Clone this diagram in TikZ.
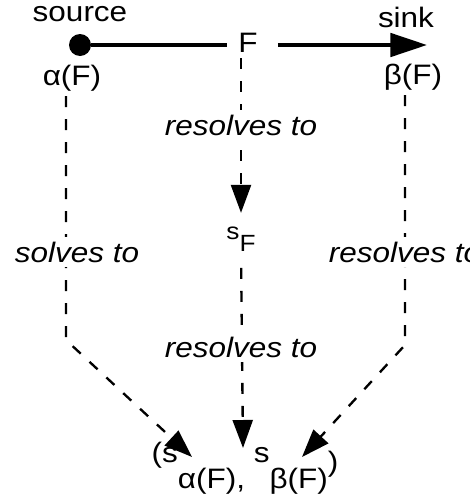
\documentclass[tikz,border=0pt]{standalone}
\usepackage{fontspec}
\setmainfont[FakeStretch=1.12]{Liberation Sans}
\usetikzlibrary{arrows.meta}

\begin{document}
\begin{tikzpicture}[
            x=0.03cm,
            y=-0.03cm,
            lbl/.style={anchor=base, inner sep=0pt, font=\fontsize{24}{29}\selectfont},
            note/.style={lbl, font=\fontsize{24}{29}\selectfont\itshape, fill=white, inner ysep=4pt},
            flow/.style={line width=3.4pt},
            res/.style={line width=2pt, dash pattern=on 0.33cm off 0.36cm, -{Triangle[length=0.84cm,width=0.6cm]}}
        ]
        \clip (0,0) rectangle (469,501);
        \coordinate (snk) at (427,45);
        \coordinate (lbend) at (66,340);
        \coordinate (rbend) at (405,345);
        \coordinate (lend) at (192,457);
        \coordinate (mend) at (243,448);
        \coordinate (rend) at (302,457);

        \node[circle, fill=black, inner sep=0pt, minimum size=0.66cm] (src) at (80,45) {};
        \node[lbl] (srclbl) at (80,21) {source};
        \node[lbl] (snklbl) at (406,27) {sink};
        \node[lbl] (fnode) at (248,52) {F};
        \node[lbl] (alpha) at (72,85) {α(F)};
        \node[lbl] (beta) at (413,84) {β(F)};
        \node[lbl, font=\fontsize{20}{24}\selectfont] (sF) at (241,251) {\raisebox{0.36cm}{s}F};
        \node[lbl] (pair) at (245,488) {\raisebox{0.78cm}{(s}α(F), \raisebox{0.78cm}{s}β(F)\raisebox{0.5cm}{)}};

        \draw[flow] (src) -- (src -| fnode.west) [shorten >=0.33cm];
        \draw[flow, -{Triangle[length=1.1cm,width=0.7cm]}] (fnode.east |- snk) [shorten <=0.6cm] -- (snk);
        \draw[res, shorten <=0.18cm, shorten >=0.4cm] (fnode.south -| sF.north) -- (sF.north);
        \draw[res, shorten <=0.5cm] (sF.south) -- (mend);
        \draw[res, shorten <=0.15cm] (alpha.south -| lbend) -- (lbend) -- (lend);
        \draw[res, shorten <=0.15cm] (beta.south -| rbend) -- (rbend) -- (rend);

        \node[note] (res1) at (241,135) {resolves to};
        \node[note] (solv) at (77,262) {solves to};
        \node[note] (res2) at (405,262) {resolves to};
        \node[note] (res3) at (241,357) {resolves to};
    \end{tikzpicture}
\end{document}
